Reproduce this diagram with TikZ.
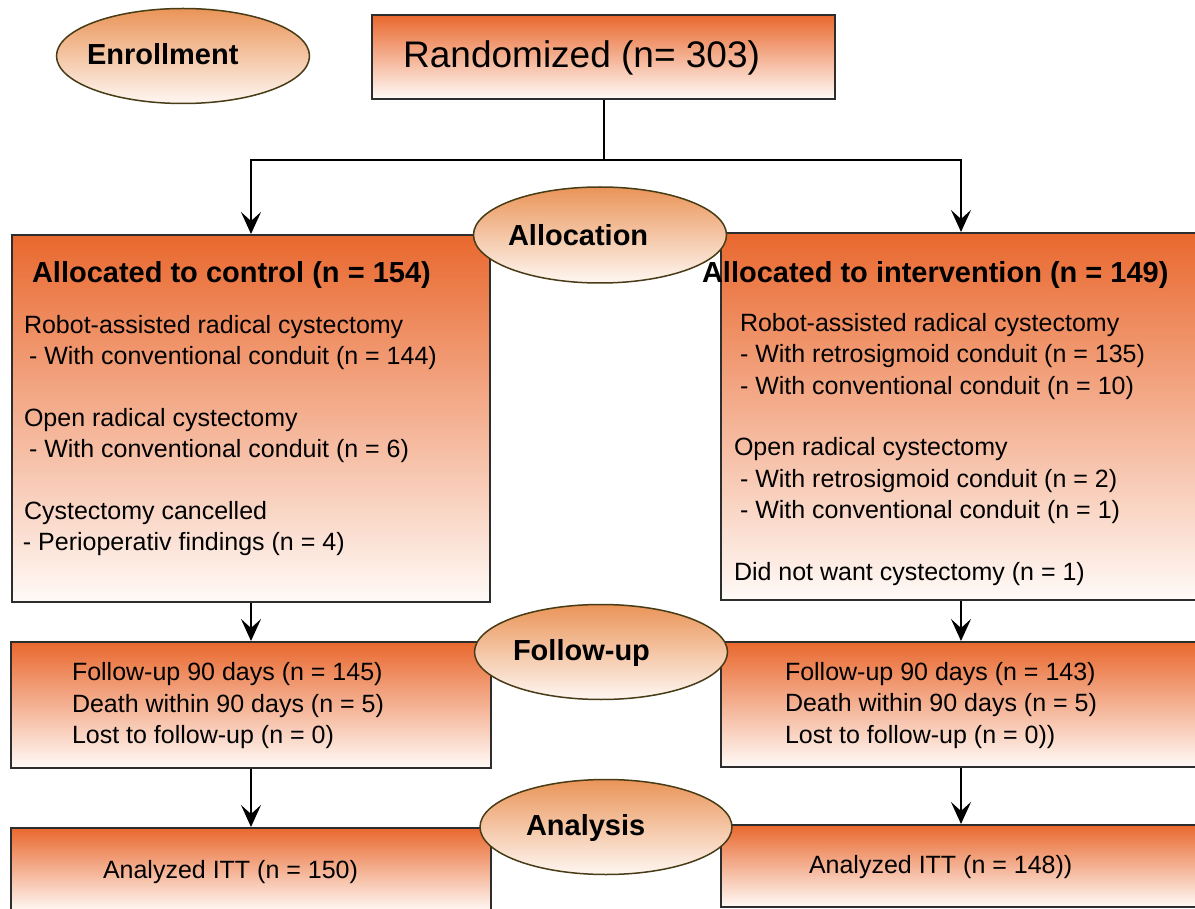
\documentclass[tikz,border=0pt]{standalone}
\usepackage{fontspec}
\setmainfont{Liberation Sans}
\usetikzlibrary{arrows.meta,shapes.geometric}
\definecolor{boxtop}{RGB}{233,104,46}
\definecolor{boxbot}{RGB}{255,250,247}
\definecolor{elltop}{RGB}{234,148,88}
\definecolor{ellbot}{RGB}{254,247,242}
\definecolor{boxline}{RGB}{45,45,45}
\definecolor{ellline}{RGB}{72,60,22}
\newcommand{\bodyf}{\fontsize{25}{31}\selectfont}
\newcommand{\titlef}{\fontsize{29}{34}\selectfont\bfseries}
\newcommand{\bigf}{\fontsize{37}{42}\selectfont}
\begin{document}
\begin{tikzpicture}[x=1pt,y=-1pt,
  flowbox/.style={rectangle, draw=boxline, line width=2pt, top color=boxtop, bottom color=boxbot, inner sep=0pt},
  phase/.style={ellipse, draw=ellline, line width=1.5pt, top color=elltop, bottom color=ellbot, inner sep=0pt, minimum width=253pt, minimum height=95pt},
  txt/.style={anchor=base west, inner sep=0pt, outer sep=0pt, font=\bodyf},
  ttl/.style={anchor=base west, inner sep=0pt, outer sep=0pt, font=\titlef},
  conn/.style={draw=black, line width=2pt},
  arr/.style={conn, -{Stealth[length=22pt,width=20pt,inset=9pt]}}]
\useasboundingbox (0,0) rectangle (1195,909);
\clip (0,0) rectangle (1195,909);
\fill[white] (0,0) rectangle (1195,909);

% boxes
\node[flowbox, minimum width=463pt, minimum height=84pt] (rand) at (603.5,57) {};
\node[flowbox, minimum width=478pt, minimum height=367pt] (ctrl) at (251,418.5) {};
\node[flowbox, minimum width=480pt, minimum height=367pt] (intv) at (961,416.5) {};
\node[flowbox, minimum width=480pt, minimum height=126pt] (fuL) at (251,705) {};
\node[flowbox, minimum width=480pt, minimum height=125pt] (fuR) at (961,704.5) {};
\node[flowbox, minimum width=480pt, minimum height=84pt] (anL) at (251,870) {};
\node[flowbox, minimum width=480pt, minimum height=82pt] (anR) at (961,866) {};

% connectors
\draw[conn] (rand.south) -- (603.5,160) coordinate (split);
\draw[arr] (split) -| (ctrl.north);
\draw[arr] (split) -| (intv.north);
\draw[arr] (ctrl.south) -- (fuL.north);
\draw[arr] (intv.south) -- (fuR.north);
\draw[arr] (fuL.south) -- (anL.north);
\draw[arr] (fuR.south) -- (anR.north);

% phase ellipses
\node[phase] (enr) at (183,56) {};
\node[phase, minimum height=96pt] (alloc) at (600,235) {};
\node[phase] (fu) at (601,652) {};
\node[phase, minimum width=252pt] (an) at (606,827) {};

% labels
\node[ttl] (enrT) at (87,65) {Enrollment};
\node[ttl] (allocT) at (508,246) {Allocation};
\node[ttl] (fuT) at (513,660) {Follow-up};
\node[ttl] (anT) at (526,835) {Analysis};
\node[anchor=base west, inner sep=0pt, font=\bigf] (randT) at (403,68) {Randomized (n= 303)};
\node[ttl] (ctrlT) at (32,283) {Allocated to control (n = 154)};
\node[ttl] (intvT) at (702,283) {Allocated to intervention (n = 149)};

\node[txt] (c1) at (24,334) {Robot-assisted radical cystectomy};
\node[txt] (c2) at (29,365) {- With conventional conduit (n = 144)};
\node[txt] (c3) at (24,427) {Open radical cystectomy};
\node[txt] (c4) at (29,457) {- With conventional conduit (n = 6)};
\node[txt] (c5) at (24,519) {Cystectomy cancelled};
\node[txt] (c6) at (23,550) {- Perioperativ findings (n = 4)};

\node[txt] (i1) at (740,332) {Robot-assisted radical cystectomy};
\node[txt] (i2) at (740,363) {- With retrosigmoid conduit (n = 135)};
\node[txt] (i3) at (740,395) {- With conventional conduit (n = 10)};
\node[txt] (i4) at (734,456) {Open radical cystectomy};
\node[txt] (i5) at (740,487) {- With retrosigmoid conduit (n = 2)};
\node[txt] (i6) at (740,518) {- With conventional conduit (n = 1)};
\node[txt] (i7) at (734,580) {Did not want cystectomy (n = 1)};

\node[txt] (f1) at (72,680) {Follow-up 90 days (n = 145)};
\node[txt] (f2) at (72,712) {Death within 90 days (n = 5)};
\node[txt] (f3) at (72,743) {Lost to follow-up (n = 0)};
\node[txt] (g1) at (785,680) {Follow-up 90 days (n = 143)};
\node[txt] (g2) at (785,711) {Death within 90 days (n = 5)};
\node[txt] (g3) at (785,743) {Lost to follow-up (n = 0))};

\node[txt] (a1) at (103,878) {Analyzed ITT (n = 150)};
\node[txt] (a2) at (809,873) {Analyzed ITT (n = 148))};
\end{tikzpicture}
\end{document}
